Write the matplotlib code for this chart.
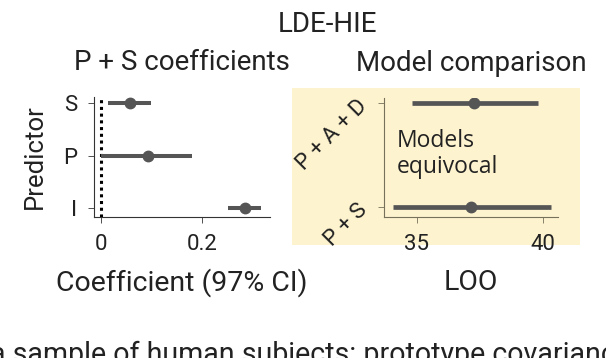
import matplotlib
matplotlib.use("Agg")
import matplotlib.pyplot as plt
from matplotlib.patches import Rectangle

plt.rcParams["font.family"] = ["Roboto", "DejaVu Sans"]

# left panel: P + S coefficients
predictors = ["S", "P", "I"]
coef_mean = [0.057, 0.093, 0.285]
coef_lo = [0.014, 0.0, 0.252]
coef_hi = [0.099, 0.180, 0.317]

# right panel: model comparison (LOO)
models = ["P + A + D", "P + S"]
loo_mean = [37.26, 37.14]
loo_lo = [34.8, 34.06]
loo_hi = [39.8, 40.32]

W, H = 606, 358
fig = plt.figure(figsize=(W / 100, H / 100), dpi=100)


def box(x0, y0, x1, y1):
    # pixel box (top-left origin) -> figure fraction rect
    return [x0 / W, 1 - y1 / H, (x1 - x0) / W, (y1 - y0) / H]


line_c = "#555555"
txt_c = "#222222"

# ---- left axes
ax1 = fig.add_axes(box(94, 97, 270, 217))
ypos = [2, 1, 0]
for y, m, lo, hi in zip(ypos, coef_mean, coef_lo, coef_hi):
    ax1.plot([lo, hi], [y, y], color=line_c, lw=2.9, solid_capstyle="butt", zorder=2)
    ax1.plot(m, y, "o", color=line_c, ms=7.5, zorder=3)
ax1.axvline(0, color="black", ls=(0, (1, 1.2)), lw=2.2, zorder=1)
ax1.set_xlim(-0.014, 0.335)
ax1.set_ylim(-0.171, 2.114)
ax1.set_yticks(ypos)
ax1.set_yticklabels(predictors)
ax1.set_xticks([0, 0.2])
ax1.set_xticklabels(["0", "0.2"])
for s in ["top", "right"]:
    ax1.spines[s].set_visible(False)
for s in ["left", "bottom"]:
    ax1.spines[s].set_color("#333333")
    ax1.spines[s].set_linewidth(0.8)
ax1.tick_params(axis="both", labelsize=16, length=4, width=0.6, color="#333333",
                labelcolor=txt_c, pad=8)
ax1.set_ylabel("Predictor", fontsize=18.5, labelpad=12, color=txt_c)
ax1.set_xlabel("Coefficient (97% CI)", fontsize=20.5, labelpad=10, color=txt_c)
ax1.set_title("P + S coefficients", fontsize=20, pad=19.5, color=txt_c)

# ---- right panel yellow background
fig.add_artist(Rectangle((292 / W, 1 - 245 / H), (580 - 292) / W, (245 - 88) / H,
                         transform=fig.transFigure, facecolor="#fdf3cf",
                         edgecolor="none", zorder=-1))

ax2 = fig.add_axes(box(384, 98, 558, 217))
ax2.patch.set_alpha(0)
mpos = [1, 0]
for y, m, lo, hi in zip(mpos, loo_mean, loo_lo, loo_hi):
    ax2.plot([lo, hi], [y, y], color=line_c, lw=3.4, solid_capstyle="butt", zorder=2)
    ax2.plot(m, y, "o", color=line_c, ms=7.5, zorder=3)
ax2.set_xlim(33.69, 40.6)
ax2.set_ylim(-0.096, 1.048)
ax2.set_yticks(mpos)
ax2.set_yticklabels(models, rotation=45, ha="right", va="center", rotation_mode="anchor")
ax2.set_xticks([35, 40])
for s in ["top", "right"]:
    ax2.spines[s].set_visible(False)
for s in ["left", "bottom"]:
    ax2.spines[s].set_color("#77705a")
    ax2.spines[s].set_linewidth(0.8)
ax2.tick_params(axis="x", labelsize=16, length=4, width=0.6, color="#77705a",
                labelcolor=txt_c, pad=8)
ax2.tick_params(axis="y", labelsize=16, length=4, width=0.6, color="#77705a",
                labelcolor=txt_c, pad=10)
ax2.set_xlabel("LOO", fontsize=20.5, labelpad=10, color=txt_c)
ax2.set_title("Model comparison", fontsize=20, pad=19.5, color=txt_c)

note_font = ["Open Sans", "DejaVu Sans"]
fig.text(397 / W, 1 - 147 / H, "Models", fontsize=16.5, ha="left", va="baseline",
         color=txt_c, family=note_font)
fig.text(397 / W, 1 - 173 / H, "equivocal", fontsize=16.5, ha="left", va="baseline",
         color=txt_c, family=note_font)

fig.text(327 / W, 1 - 32 / H, "LDE-HIE", fontsize=20, ha="center", va="baseline",
         color=txt_c)

# caption fragment cut off at the bottom edge
fig.text(-10 / W, 1 - 363 / H, "a sample of human subjects: prototype covariance",
         fontsize=20.6, ha="left", va="baseline", color=txt_c)

fig.savefig("out.png", dpi=100)
